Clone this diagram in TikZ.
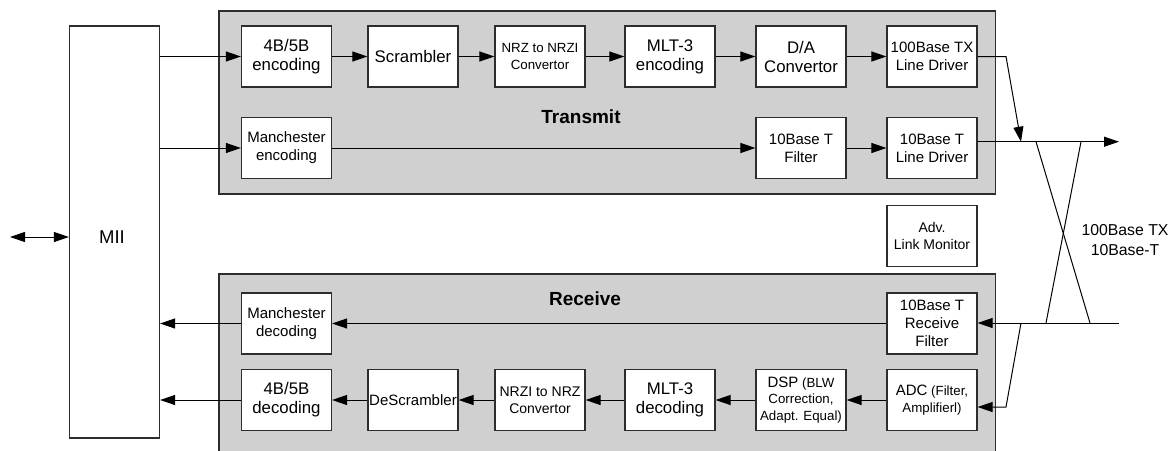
\documentclass[tikz,border=0pt]{standalone}
\usepackage{fontspec}
\setmainfont{Liberation Sans}
\usetikzlibrary{arrows.meta}
\definecolor{panelfill}{RGB}{208,208,208}
\definecolor{edgecol}{RGB}{45,45,45}
\newcommand\szL{\fontsize{16.8}{19}\selectfont}
\newcommand\szM{\fontsize{15}{18}\selectfont}
\newcommand\szN{\fontsize{14}{17}\selectfont}
\newcommand\szS{\fontsize{13.3}{16.7}\selectfont}
\tikzset{
  blk/.style={draw=edgecol, line width=1.2pt, fill=white, minimum width=90pt, minimum height=61pt,
              inner sep=0pt, align=center},
  panel/.style={draw=edgecol, line width=1.3pt, fill=panelfill, inner sep=0pt},
  arr/.style={line width=1pt, -{Triangle[length=15pt,width=10pt]}},
  wire/.style={line width=1pt},
  title/.style={font=\bfseries\fontsize{19}{22}\selectfont}
}
\begin{document}
\begin{tikzpicture}[x=1pt,y=-1pt]
\useasboundingbox (0,0) rectangle (1174,450);
\clip (0,0) rectangle (1174,450);
\fill[white] (0,0) rectangle (1174,450);

% panels
\node[panel, minimum width=776.5pt, minimum height=183pt] (tx) at (607.25,102.5) {};
\node[panel, minimum width=776.5pt, minimum height=190pt] (rx) at (607.25,369) {};
\node[title] (txl) at (581,117) {Transmit};
\node[title] (rxl) at (585,299) {Receive};

% MII
\node[draw=edgecol, line width=1.2pt, fill=white, minimum width=90pt, minimum height=412pt,
      inner sep=0pt] (mii) at (114.5,232) {};
\node[font=\fontsize{18.5}{22}\selectfont] (miit) at (112,237) {MII};

% transmit row 1
\node[blk, font=\szL] (enc45) at (286.5,56.5) {4B/5B\\encoding};
\node[blk, font=\szL] (scr)   at (413,56.5) {Scrambler};
\node[blk, font=\szS] (nrz)   at (540,56.5) {NRZ to NRZI\\Convertor};
\node[blk, font=\szL] (mlt)   at (670,56.5) {MLT-3\\encoding};
\node[blk, font=\szL] (da)    at (801,56.5) {D/A\\Convertor};
\node[blk, font=\szM] (drvTX) at (932,56.5) {100Base TX\\Line Driver};
% transmit row 2
\node[blk, font=\szM] (manE)  at (286.5,148) {Manchester\\encoding};
\node[blk, font=\szM] (filt)  at (801,148) {10Base T\\Filter};
\node[blk, font=\szM] (drvT)  at (932,148) {10Base T\\Line Driver};

% monitor
\node[blk, font=\szN] (adv) at (932,236) {Adv.\\Link Monitor};

% receive row 1
\node[blk, font=\szM] (manD) at (286.5,323.5) {Manchester\\decoding};
\node[blk, font=\szM] (rxf)  at (932,323.5) {10Base T\\Receive\\Filter};
% receive row 2
\node[blk, font=\szL] (dec45) at (286.5,400) {4B/5B\\decoding};
\node[blk, font=\szM] (desc)  at (413,400) {DeScrambler};
\node[blk, font=\szN] (nrzi)  at (540,400) {NRZI to NRZ\\Convertor};
\node[blk, font=\szL] (mltd)  at (670,400) {MLT-3\\decoding};
\node[blk, font=\szS] (dsp)   at (801,400) {{\szM DSP} (BLW\\Correction,\\Adapt. Equal)};
\node[blk, font=\szS] (adc)   at (932,400) {{\szM ADC} (Filter,\\Amplifierl)};

% media label
\node[font=\fontsize{15.8}{20.5}\selectfont, align=center] (media) at (1125,240) {100Base TX\\10Base-T};

% coordinates
\coordinate (ext)   at (10,237);
\coordinate (bend1) at (1006,56.5);
\coordinate (j1)    at (1021,141.7);
\coordinate (out1)  at (1119,141.7);
\coordinate (xa)    at (1036,141.7);
\coordinate (xb)    at (1090,323);
\coordinate (xc)    at (1081,141.7);
\coordinate (xd)    at (1046,323);
\coordinate (in1)   at (1119,323);
\coordinate (j2)    at (1021,323);
\coordinate (bend2) at (1006,407);

% left interface
\draw[line width=1pt, {Triangle[length=15pt,width=10pt]}-{Triangle[length=15pt,width=10pt]}] (ext) -- (mii.west |- ext);

% transmit connectors
\draw[arr] (mii.east |- enc45) -- (enc45);
\draw[arr] (mii.east |- manE) -- (manE);
\draw[arr] (enc45) -- (scr);
\draw[arr] (scr) -- (nrz);
\draw[arr] (nrz) -- (mlt);
\draw[arr] (mlt) -- (da);
\draw[arr] (da) -- (drvTX);
\draw[arr] (manE) -- (filt);
\draw[arr] (filt) -- (drvT);
\draw[arr] (drvTX.east) -- (bend1) -- (j1);
\draw[arr] (drvT.east |- out1) -- (out1);

% twisted pair cross
\draw[wire] (xa) -- (xb);
\draw[wire] (xc) -- (xd);

% receive connectors
\draw[arr] (in1) -- (rxf.east |- in1);
\draw[arr] (j2) -- (bend2) -- (adc.east |- bend2);
\draw[arr] (rxf) -- (manD);
\draw[arr] (manD) -- (mii.east |- manD);
\draw[arr] (adc) -- (dsp);
\draw[arr] (dsp) -- (mltd);
\draw[arr] (mltd) -- (nrzi);
\draw[arr] (nrzi) -- (desc);
\draw[arr] (desc) -- (dec45);
\draw[arr] (dec45) -- (mii.east |- dec45);
\end{tikzpicture}
\end{document}
